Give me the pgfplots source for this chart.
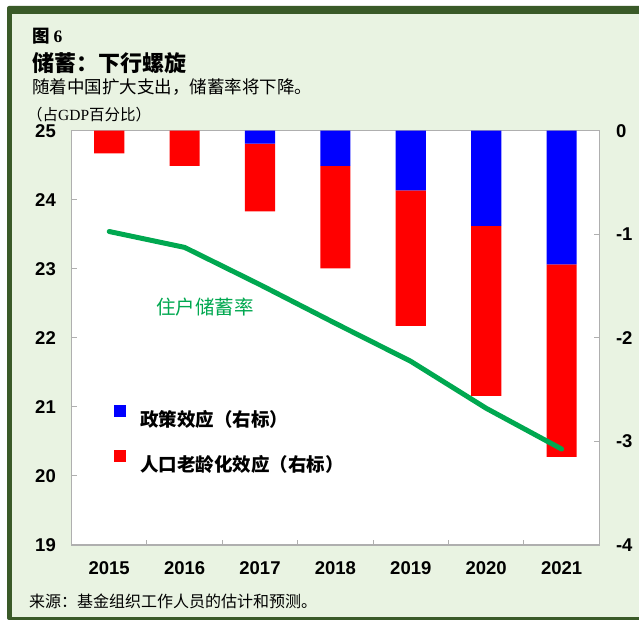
\documentclass[border=0pt]{standalone}
\usepackage{pgfplots}
\pgfplotsset{compat=1.18}
\usepackage{fontspec}
\setmainfont{Liberation Sans}
\newfontfamily\cjk{Noto Sans CJK SC}
\newfontfamily\serif{Liberation Serif}
\definecolor{bgg}{RGB}{233,243,226}
\definecolor{frameg}{RGB}{58,90,40}
\definecolor{lineg}{RGB}{0,168,80}
\definecolor{axgray}{RGB}{175,175,175}

\begin{document}
\begin{tikzpicture}[x=1pt,y=1pt]
\useasboundingbox (0,0) rectangle (639,620);
\fill[white] (0,0) rectangle (639,620);
\fill[frameg, rounded corners=2pt] (7,0) rectangle (645,614);
\fill[bgg] (12,2.5) rectangle (645,606);

\node[anchor=west, inner sep=0pt] at (32,583.5) {\cjk\bfseries\fontsize{17.5}{17.5}\selectfont 图 {\serif\bfseries 6}};
\node[anchor=west, inner sep=0pt] at (32,557) {\cjk\bfseries\fontsize{22}{22}\selectfont 储蓄：下行螺旋};
\node[anchor=west, inner sep=0pt] at (32,532.5) {\cjk\fontsize{17.5}{17.5}\selectfont 随着中国扩大支出，储蓄率将下降。};
\node[anchor=west, inner sep=0pt] at (27,505.5) {\fontsize{15.5}{15.5}\selectfont{\cjk （占}{\serif GDP}{\cjk 百分比）}};
\node[anchor=west, inner sep=0pt] at (29,19) {\cjk\fontsize{16}{16}\selectfont 来源：基金组织工作人员的估计和预测。};

\begin{axis}[
  at={(71.5pt,75pt)}, anchor=south west, scale only axis,
  width=527.8pt, height=414.3pt,
  xmin=-0.5, xmax=6.5, ymin=-4, ymax=0,
  axis background/.style={fill=white},
  axis line style={axgray, line width=1.2pt},
  ytick={-4,-3,-2,-1,0}, yticklabels={-4,-3,-2,-1,0},
  ytick pos=right, yticklabel pos=right,
  xtick={0,1,2,3,4,5,6},
  xticklabels={2015,2016,2017,2018,2019,2020,2021},
  xtick pos=left,
  minor xtick={0.5,1.5,2.5,3.5,4.5,5.5},
  major x tick style={draw=none},
  tick style={axgray, line width=1pt},
  major tick length=5pt, minor tick length=5pt,
  ticklabel style={font=\bfseries\fontsize{18.5}{18.5}\selectfont},
  xticklabel style={inner sep=0pt, yshift=-16pt},
  yticklabel style={inner sep=0pt, xshift=16.5pt},
  ybar stacked, bar width=0.4,
  legend cell align=left,
  legend style={at={(0.0805,0.338)}, anchor=north west, draw=none, fill=none,
    inner sep=0pt, row sep=22pt, column sep=14pt,
    font=\cjk\bfseries\fontsize{18.5}{18.5}\selectfont, nodes={inner sep=0pt}},
]
\addplot[fill=blue, draw=none,
  legend image code/.code={\fill[blue] (0pt,2pt) rectangle (12pt,14pt);}]
  coordinates {(0,0) (1,0) (2,-0.125) (3,-0.34) (4,-0.577) (5,-0.92) (6,-1.29)};
\addplot[fill=red, draw=none,
  legend image code/.code={\fill[red] (0pt,2pt) rectangle (12pt,14pt);}]
  coordinates {(0,-0.22) (1,-0.34) (2,-0.655) (3,-0.99) (4,-1.308) (5,-1.64) (6,-1.86)};
\legend{政策效应（右标）, 人口老龄化效应（右标）}
\end{axis}

\begin{axis}[
  at={(71.5pt,75pt)}, anchor=south west, scale only axis,
  width=527.8pt, height=414.3pt,
  xmin=-0.5, xmax=6.5, ymin=19, ymax=25,
  axis line style={draw=none},
  xtick=\empty,
  ytick={19,20,21,22,23,24,25}, ytick pos=left,
  tick style={axgray, line width=1pt}, major tick length=5pt,
  ticklabel style={font=\bfseries\fontsize{18.5}{18.5}\selectfont},
  yticklabel style={inner sep=0pt, xshift=-15.5pt},
  /pgf/number format/assume math mode=true,
]
\addplot[lineg, line width=5pt, line cap=round, line join=round]
  coordinates {(0,23.54) (1,23.31) (2,22.77) (3,22.21) (4,21.66) (5,20.98) (6,20.39)};
\node[lineg, inner sep=0pt, font=\cjk\fontsize{19.5}{19.5}\selectfont] at (axis cs:1.273,22.45) {住户储蓄率};
\end{axis}
\end{tikzpicture}
\end{document}
